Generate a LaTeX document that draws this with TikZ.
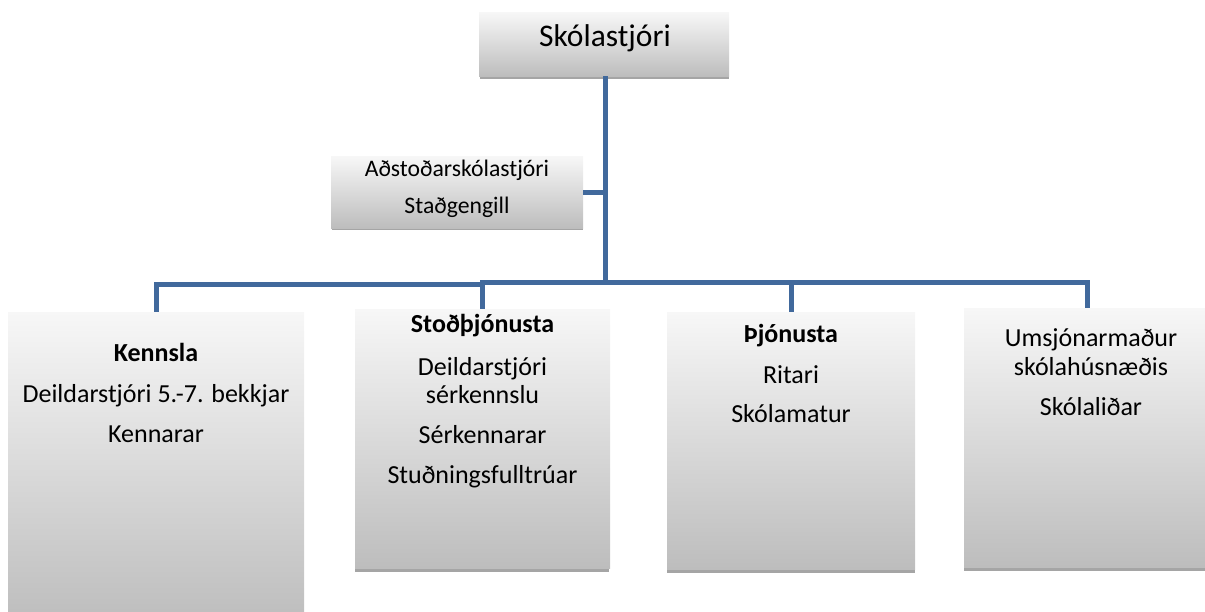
\documentclass[tikz,border=0pt]{standalone}
\usepackage{fontspec}
\setmainfont{Carlito}
\definecolor{connblue}{RGB}{65,105,156}
\definecolor{boxtop}{RGB}{247,247,247}
\definecolor{boxbot}{RGB}{189,189,189}
\definecolor{shadowgray}{RGB}{165,165,165}
\tikzset{
  orgbox/.style={rectangle, inner sep=0pt, draw=none, shading=axis, top color=boxtop, bottom color=boxbot, anchor=north west},
  shadowbox/.style={fill=shadowgray, draw=none},
  conn/.style={draw=connblue, line width=5pt},
  lbl/.style={anchor=base, inner sep=0pt, font=\fontsize{26}{28}\selectfont},
  hd/.style={lbl, font=\fontsize{26}{28}\selectfont\bfseries},
}
\begin{document}
\begin{tikzpicture}[x=1pt,y=1pt]
\useasboundingbox (0,0) rectangle (1205,-612);
% shadows
\fill[shadowgray] (480,-15) rectangle (729,-79);
\fill[shadowgray] (332,-159) rectangle (583,-230.5);
\fill[shadowgray] (355,-312) rectangle (609,-572);
\fill[shadowgray] (667,-315) rectangle (915,-573);
\fill[shadowgray] (964,-311) rectangle (1211,-570.5);
\fill[shadowgray] (7.5,-312) rectangle (304,-620);
% boxes
\node[orgbox, minimum width=250pt, minimum height=64pt] (top) at (479,-12) {};
\node[orgbox, minimum width=252pt, minimum height=72pt] (adst) at (331,-156) {};
\node[orgbox, minimum width=296pt, minimum height=310pt] (kenn) at (8,-312) {};
\node[orgbox, minimum width=255pt, minimum height=259pt] (stod) at (355,-309) {};
\node[orgbox, minimum width=248pt, minimum height=257pt] (thjon) at (667,-312) {};
\node[orgbox, minimum width=247pt, minimum height=259pt] (umsj) at (964,-308) {};
% connectors
\coordinate (jr) at (605.5,-282.5);
\coordinate (jl) at (482,-285);
\draw[conn] (top.south -| jr) -- (jr);
\draw[conn] (adst.east) -- (adst.east -| jr);
\draw[conn] (jr) -| (482,-309);
\draw[conn] (482,-282.5) -- (jr);
\draw[conn] (jr) -| (thjon.north);
\draw[conn] (jr) -| (umsj.north);
\draw[conn] (jl) -| (kenn.north);
% texts
\node[lbl, font=\fontsize{31.5}{34}\selectfont] (ttop) at (605,-46.7) {Skólastjóri};
\node[lbl, font=\fontsize{23.7}{26}\selectfont] (ta1) at (457,-176.7) {Aðstoðarskólastjóri};
\node[lbl, font=\fontsize{23.7}{26}\selectfont] (ta2) at (457,-214) {Staðgengill};
\node[hd] (tk1) at (156,-362) {Kennsla};
\node[lbl] (tk2) at (156,-402) {Deildarstjóri 5.-7. bekkjar};
\node[lbl] (tk3) at (156,-442) {Kennarar};
\node[hd] (ts1) at (482.5,-333) {Stoðþjónusta};
\node[lbl] (ts2) at (482.5,-375) {Deildarstjóri};
\node[lbl] (ts3) at (482.5,-403) {sérkennslu};
\node[lbl] (ts4) at (482.5,-443) {Sérkennarar};
\node[lbl] (ts5) at (482.5,-483) {Stuðningsfulltrúar};
\node[hd] (tt1) at (791,-343) {Þjónusta};
\node[lbl] (tt2) at (791,-383) {Ritari};
\node[lbl] (tt3) at (791,-422) {Skólamatur};
\node[lbl] (tu1) at (1091,-346.7) {Umsjónarmaður};
\node[lbl] (tu2) at (1091,-375) {skólahúsnæðis};
\node[lbl] (tu3) at (1091,-415) {Skólaliðar};
\end{tikzpicture}
\end{document}
